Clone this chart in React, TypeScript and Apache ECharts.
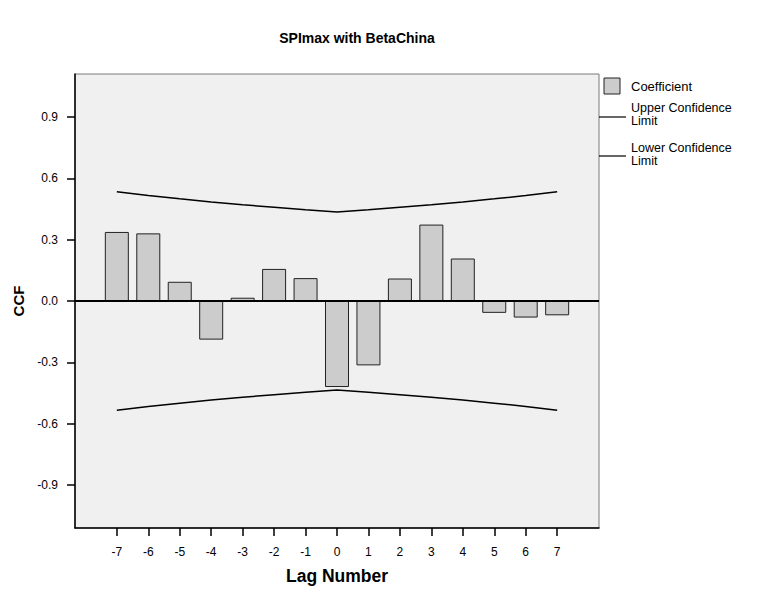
import React, { useEffect, useRef } from "react";
import * as echarts from "echarts";

const lags = [-7, -6, -5, -4, -3, -2, -1, 0, 1, 2, 3, 4, 5, 6, 7];
const coefficients = [0.338, 0.331, 0.094, -0.189, 0.016, 0.157, 0.112, -0.421, -0.315, 0.110, 0.374, 0.208, -0.058, -0.081, -0.070];
const upperLimit = [0.535, 0.516, 0.5, 0.485, 0.471, 0.459, 0.447, 0.436, 0.447, 0.459, 0.471, 0.485, 0.5, 0.516, 0.535];
const lowerLimit = [-0.535, -0.516, -0.5, -0.485, -0.471, -0.459, -0.447, -0.436, -0.447, -0.459, -0.471, -0.485, -0.5, -0.516, -0.535];
const yTicks = [-0.9, -0.6, -0.3, 0.0, 0.3, 0.6, 0.9];

const FONT = "'Liberation Sans', Arial, Helvetica, sans-serif";

export default function App() {
  const ref = useRef<HTMLDivElement>(null);
  useEffect(() => {
    if (!ref.current) return;
    const chart = echarts.init(ref.current, null, { renderer: "svg" });
    const option: any = {
      animation: false,
      backgroundColor: "#ffffff",
      textStyle: { fontFamily: FONT },
      title: {
        text: "SPImax with BetaChina",
        left: 352,
        top: 26,
        textAlign: "center",
        textStyle: { fontSize: 14, fontWeight: "bold", color: "#000", fontFamily: FONT },
      },
      grid: {
        left: 75,
        top: 74,
        right: 173,
        bottom: 60,
        show: true,
        backgroundColor: "#f0f0f0",
        borderColor: "#7a7a7a",
        borderWidth: 1,
      },
      xAxis: {
        type: "value",
        min: -8.33,
        max: 8.33,
        name: "Lag Number",
        nameLocation: "middle",
        nameGap: 39,
        nameTextStyle: { fontSize: 17.5, fontWeight: "bold", color: "#000", fontFamily: FONT },
        axisLine: { show: true, onZero: false, lineStyle: { color: "#000", width: 1.5 } },
        axisTick: { show: true, length: 8, lineStyle: { color: "#000", width: 1.5 }, customValues: lags },
        axisLabel: { color: "#000", fontSize: 12, margin: 18, fontFamily: FONT, customValues: lags },
        splitLine: { show: false },
      },
      yAxis: {
        type: "value",
        min: -1.111,
        max: 1.111,
        name: "CCF",
        nameLocation: "middle",
        nameGap: 45,
        nameTextStyle: { fontSize: 15, fontWeight: "bold", color: "#000", fontFamily: FONT },
        axisLine: { show: true, onZero: false, lineStyle: { color: "#000", width: 1.5 } },
        axisTick: { show: true, length: 8, lineStyle: { color: "#000", width: 1.5 }, customValues: yTicks },
        axisLabel: {
          color: "#000",
          fontSize: 12,
          margin: 17,
          fontFamily: FONT,
          customValues: yTicks,
          formatter: (v: number) => v.toFixed(1),
        },
        splitLine: { show: false },
      },
      series: [
        {
          name: "Coefficient",
          type: "bar",
          barWidth: 24,
          data: lags.map((l, i) => [l, coefficients[i]]),
          itemStyle: { color: "#cccccc", borderColor: "#222", borderWidth: 1 },
          markLine: {
            silent: true,
            symbol: "none",
            label: { show: false },
            lineStyle: { color: "#000", width: 2, type: "solid" },
            data: [{ yAxis: 0 }],
          },
          z: 3,
        },
        {
          name: "Upper Confidence Limit",
          type: "line",
          symbol: "none",
          data: lags.map((l, i) => [l, upperLimit[i]]),
          lineStyle: { color: "#000", width: 1.5 },
          z: 4,
        },
        {
          name: "Lower Confidence Limit",
          type: "line",
          symbol: "none",
          data: lags.map((l, i) => [l, lowerLimit[i]]),
          lineStyle: { color: "#000", width: 1.5 },
          z: 4,
        },
      ],
      graphic: [
        { type: "rect", shape: { x: 604, y: 78, width: 16, height: 16 }, style: { fill: "#cccccc", stroke: "#222", lineWidth: 1 } },
        { type: "text", x: 631, y: 86, style: { text: "Coefficient", fill: "#000", font: `13px ${FONT}`, textVerticalAlign: "middle" } },
        { type: "line", shape: { x1: 599, y1: 117, x2: 626, y2: 117 }, style: { stroke: "#000", lineWidth: 1.2 } },
        { type: "text", x: 631, y: 102, style: { text: "Upper Confidence\nLimit", fill: "#000", font: `12.5px ${FONT}`, lineHeight: 12.5 } },
        { type: "line", shape: { x1: 599, y1: 156, x2: 626, y2: 156 }, style: { stroke: "#000", lineWidth: 1.2 } },
        { type: "text", x: 631, y: 142, style: { text: "Lower Confidence\nLimit", fill: "#000", font: `12.5px ${FONT}`, lineHeight: 12.5 } },
      ],
    };
    chart.setOption(option);
    return () => chart.dispose();
  }, []);
  return <div ref={ref} style={{ width: 772, height: 590, position: "absolute", left: 0, top: 0 }} />;
}
